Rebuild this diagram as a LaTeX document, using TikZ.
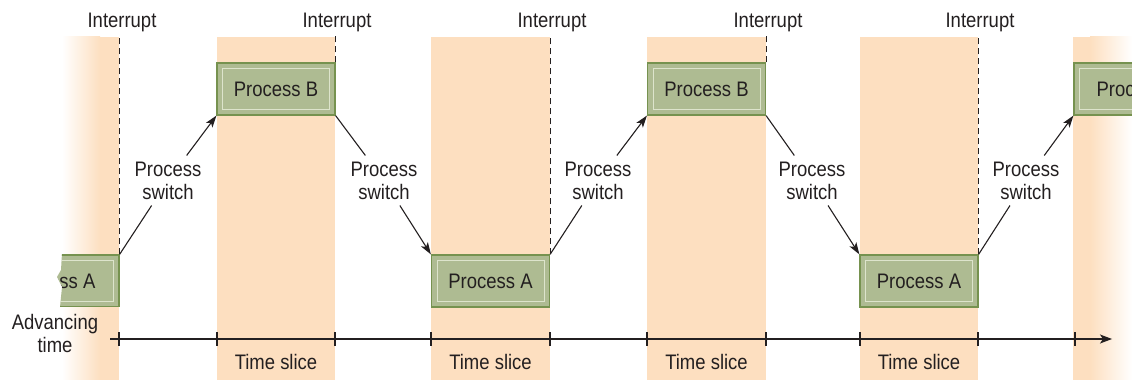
\documentclass[tikz,border=0pt]{standalone}
\usepackage{fontspec}
\setmainfont{Liberation Sans}[FakeStretch=0.88]
\usepackage{tikz}
\usetikzlibrary{arrows.meta,positioning,calc}
\definecolor{peach}{HTML}{FDDFC0}
\definecolor{procfill}{HTML}{AEBB92}
\definecolor{procedge}{HTML}{76924F}
\definecolor{procline}{HTML}{DDE4CC}
\definecolor{ink}{HTML}{231F20}
\tikzset{
  txt/.style={text=ink, font=\fontsize{21}{23}\selectfont},
  proc/.style={txt, draw=procedge, fill=procfill, line width=1.2pt, minimum width=118pt, minimum height=52pt, inner sep=0pt,
    path picture={\draw[procline, line width=1pt] ([shift={(5.5pt,5.5pt)}]path picture bounding box.south west) rectangle ([shift={(-5.5pt,-5.5pt)}]path picture bounding box.north east);}},
  lbl/.style={txt, align=center, inner sep=6pt},
  tag/.style={txt, anchor=base, inner sep=2pt},
  ln/.style={line width=1.1pt, draw=ink},
  ar/.style={ln, -{Stealth[length=12pt,width=8pt,inset=3pt]}},
  intr/.style={ln, dash pattern=on 6pt off 4pt},
}
\begin{document}
\begin{tikzpicture}[x=1pt, y=1pt]
    \useasboundingbox (0,0) rectangle (1132,380);
    \shade[left color=white, right color=peach] (62,0) rectangle (100,343);
    \fill[peach] (99.5,0) rectangle (119,343);
    \fill[peach] (217,0) rectangle (335,343);
    \fill[peach] (431,0) rectangle (550,343);
    \fill[peach] (647,0) rectangle (766,343);
    \fill[peach] (860,0) rectangle (978,343);
    \fill[peach] (1073,0) rectangle (1091,343);
    \shade[left color=peach, right color=white] (1090,0) rectangle (1132,343);

    \begin{scope}
      \clip (62,127) -- (61,110) -- (57,103) -- (62,93) -- (60,73) -- (125,73) -- (125,127) -- cycle;
      \node[proc] (a0) at (60,99) {};
      \node[txt, anchor=east, inner sep=0pt] (a0t) at ([xshift=-24pt]a0.east) {Process A};
    \end{scope}
    \node[proc] (b1) at (276,291) {Process B};
    \node[proc] (a2) at (490.5,99) {Process A};
    \node[proc] (b3) at (706.5,291) {Process B};
    \node[proc] (a4) at (919,99) {Process A};
    \node[proc] (b5) at (1133,291) {};
    \node[txt, anchor=west, inner sep=0pt] (b5t) at ([xshift=23pt]b5.west) {Process B};

    \node[tag] (i1) at (122,352) {Interrupt};
    \node[tag] (i2) at (337,352) {Interrupt};
    \node[tag] (i3) at (552,352) {Interrupt};
    \node[tag] (i4) at (768,352) {Interrupt};
    \node[tag] (i5) at (980,352) {Interrupt};
    \draw[intr] (a0.north east) -- (a0.north east |- i1.south);
    \draw[intr] (b1.north east) -- (b1.north east |- i2.south);
    \draw[intr] (a2.north east) -- (a2.north east |- i3.south);
    \draw[intr] (b3.north east) -- (b3.north east |- i4.south);
    \draw[intr] (a4.north east) -- (a4.north east |- i5.south);

    \node[lbl] (s1) at (168,199.5) {Process\\switch};
    \node[lbl] (s2) at (384,199.5) {Process\\switch};
    \node[lbl] (s3) at (598,199.5) {Process\\switch};
    \node[lbl] (s4) at (812,199.5) {Process\\switch};
    \node[lbl] (s5) at (1026,199.5) {Process\\switch};
    \draw[ln] (a0.north east) -- (s1); \draw[ar] (s1) -- (b1.south west);
    \draw[ln] (b1.south east) -- (s2); \draw[ar] (s2) -- (a2.north west);
    \draw[ln] (a2.north east) -- (s3); \draw[ar] (s3) -- (b3.south west);
    \draw[ln] (b3.south east) -- (s4); \draw[ar] (s4) -- (a4.north west);
    \draw[ln] (a4.north east) -- (s5); \draw[ar] (s5) -- (b5.south west);

    \node[lbl, inner sep=0pt] (adv) at (55,46.5) {Advancing\\time};
    \coordinate (t0) at (110,41);
    \coordinate (t1) at (1112,41);
    \draw[ln, -{Stealth[length=12pt,width=9pt,inset=3pt]}] (t0) -- (t1);
    \foreach \x in {119,217,335,431,550,647,766,860,978,1075}
      \draw[ln] (\x,34) -- (\x,48);
    \node[tag] (ts1) at (276,10) {Time slice};
    \node[tag] (ts2) at (490.5,10) {Time slice};
    \node[tag] (ts3) at (706.5,10) {Time slice};
    \node[tag] (ts4) at (919,10) {Time slice};
  \end{tikzpicture}
\end{document}
